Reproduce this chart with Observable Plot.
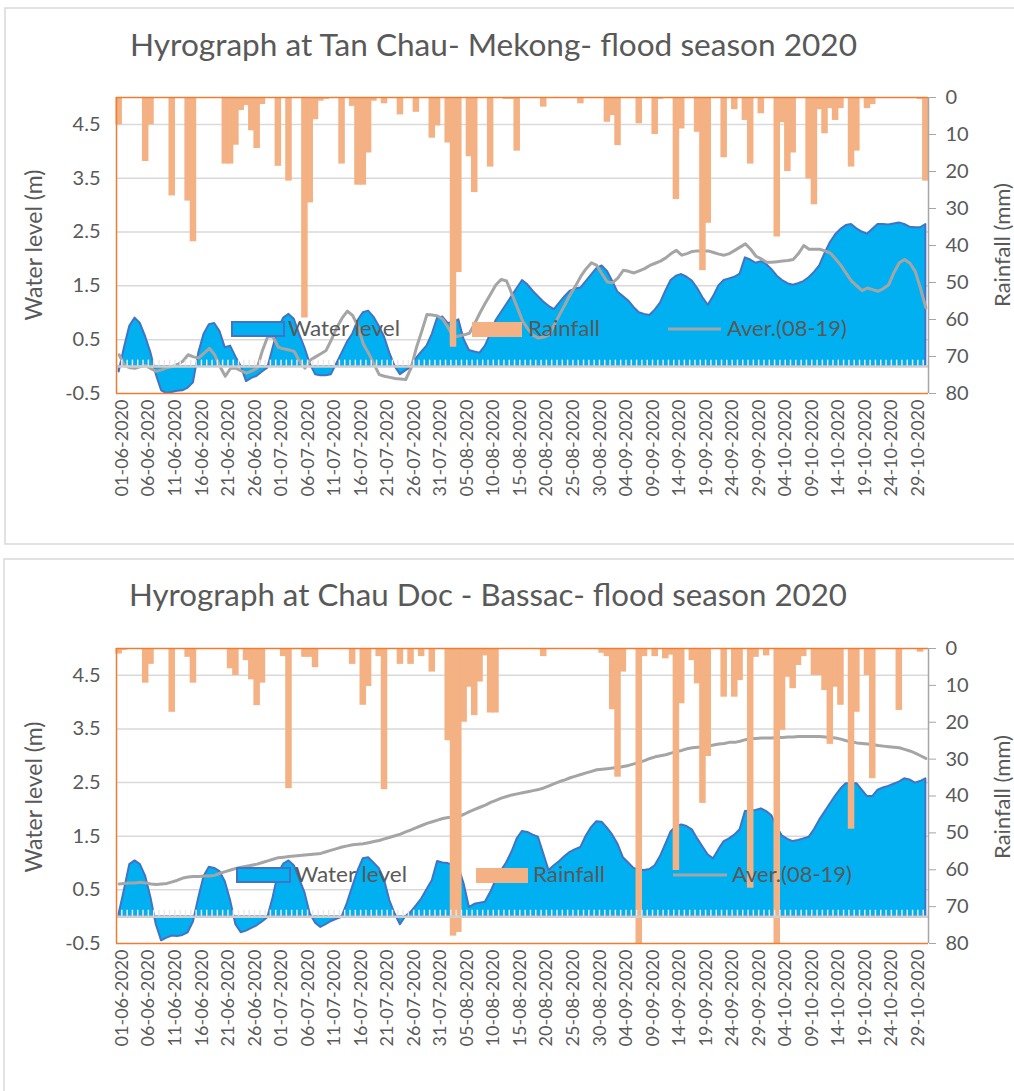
<!DOCTYPE html>
<html>
<head>
<meta charset="utf-8">
<script src="https://cdn.jsdelivr.net/npm/d3@7"></script>
<script src="https://cdn.jsdelivr.net/npm/@observablehq/plot@0.6"></script>
<style>
  html, body { margin: 0; padding: 0; background: #ffffff; }
  #page { position: relative; width: 1014px; height: 1091px; overflow: hidden; font-family: Lato, "Open Sans", sans-serif; }
  #overlay { position: absolute; left: 0; top: 0; pointer-events: none; }
</style>
</head>
<body>
<div id="page"></div>
<script>
// ---------------- DATA ----------------
const startDay = "2020-06-01";           // first day of the series (daily values)
const tickStepDays = 5;                  // a date label every 5 days

const titles = [
  "Hyrograph at Tan Chau- Mekong- flood season 2020",
  "Hyrograph at Chau Doc - Bassac- flood season 2020"
];
const seriesNames = ["Water level", "Rainfall", "Aver.(08-19)"];
const leftTitle = "Water level (m)";
const rightTitle = "Rainfall (mm)";

const levelTicks = [-0.5, 0.5, 1.5, 2.5, 3.5, 4.5];
const levelDomain = [-0.5, 5.0];
const rainTicks = [0, 10, 20, 30, 40, 50, 60, 70, 80];
const rainDomain = [0, 80];

// Tan Chau – water level (m), daily
const tcLevel = [
  -0.10, 0.35, 0.75, 0.90, 0.80, 0.55, 0.25, -0.15, -0.45, -0.50,
  -0.48, -0.46, -0.45, -0.40, -0.30, 0.25, 0.60, 0.78, 0.80, 0.65,
  0.35, 0.38, 0.18, 0.00, -0.28, -0.22, -0.18, -0.10, -0.03, 0.34,
  0.70, 0.90, 0.97, 0.88, 0.60, 0.35, 0.05, -0.15, -0.17, -0.17,
  -0.15, 0.05, 0.25, 0.45, 0.60, 0.85, 1.00, 1.03, 0.92, 0.75,
  0.55, 0.25, 0.00, -0.15, -0.08, -0.02, 0.15, 0.27, 0.38, 0.60,
  0.90, 0.92, 0.80, 0.82, 0.87, 0.50, 0.30, 0.27, 0.25, 0.38,
  0.60, 0.85, 1.00, 1.15, 1.30, 1.45, 1.60, 1.52, 1.40, 1.30,
  1.20, 1.12, 1.06, 1.18, 1.30, 1.40, 1.44, 1.46, 1.58, 1.70,
  1.82, 1.87, 1.77, 1.58, 1.38, 1.30, 1.22, 1.10, 1.00, 0.97,
  0.95, 1.05, 1.18, 1.40, 1.60, 1.68, 1.71, 1.66, 1.59, 1.45,
  1.28, 1.14, 1.30, 1.50, 1.60, 1.63, 1.66, 1.72, 2.02, 1.98,
  1.92, 1.95, 1.90, 1.80, 1.68, 1.60, 1.54, 1.51, 1.54, 1.58,
  1.65, 1.75, 1.87, 2.10, 2.30, 2.45, 2.55, 2.62, 2.64, 2.56,
  2.50, 2.46, 2.55, 2.64, 2.64, 2.63, 2.65, 2.67, 2.64, 2.59,
  2.58, 2.58, 2.64
];
// Tan Chau – average 2008-2019 (m), daily
const tcAvg = [
  0.22, 0.02, -0.02, -0.03, 0.00, 0.02, -0.04, -0.09, -0.06, -0.02,
  0.00, 0.04, 0.10, 0.22, 0.18, 0.16, 0.25, 0.34, 0.22, 0.00,
  -0.18, -0.03, -0.03, -0.08, -0.12, -0.08, -0.03, 0.30, 0.56, 0.55,
  0.36, 0.33, 0.31, 0.28, 0.10, -0.03, 0.12, 0.18, 0.24, 0.30,
  0.50, 0.72, 0.90, 1.03, 0.95, 0.75, 0.42, 0.25, 0.05, -0.15,
  -0.18, -0.20, -0.22, -0.23, -0.24, -0.03, 0.35, 0.65, 0.97, 0.96,
  0.94, 0.88, 0.72, 0.55, 0.57, 0.59, 0.62, 0.80, 1.00, 1.18,
  1.35, 1.52, 1.62, 1.59, 1.35, 1.10, 0.85, 0.70, 0.58, 0.53,
  0.55, 0.59, 0.78, 0.97, 1.15, 1.34, 1.50, 1.68, 1.82, 1.93,
  1.88, 1.72, 1.57, 1.56, 1.65, 1.79, 1.77, 1.74, 1.78, 1.82,
  1.88, 1.92, 1.96, 2.02, 2.10, 2.16, 2.07, 2.10, 2.14, 2.15,
  2.15, 2.15, 2.12, 2.09, 2.07, 2.10, 2.16, 2.22, 2.28, 2.18,
  2.05, 2.00, 1.94, 1.94, 1.95, 1.96, 1.97, 1.99, 2.10, 2.25,
  2.18, 2.18, 2.18, 2.15, 2.11, 2.00, 1.88, 1.73, 1.59, 1.50,
  1.41, 1.46, 1.43, 1.40, 1.45, 1.52, 1.75, 1.93, 1.99, 1.92,
  1.77, 1.45, 1.09
];
// Tan Chau – rainfall (mm), daily
const tcRain = [
  7.4, 0, 0, 0, 0, 17.3, 7.4, 0, 0, 0,
  26.6, 0, 0, 28, 39, 0, 0, 0, 0, 0,
  18, 18, 12.9, 3.5, 2.2, 9, 13.8, 1.9, 0, 0,
  18.6, 0, 22.6, 0, 0, 59.6, 28.5, 6, 1, 0.5,
  0, 0, 18, 0, 2.4, 23.7, 23.7, 15, 1, 0,
  1.7, 0, 0, 4.7, 0, 0, 4, 0, 0, 11,
  7.7, 0, 12.3, 67.5, 47.3, 0, 16, 25.7, 0, 0,
  18.8, 0, 0, 0.5, 0.5, 14.5, 0, 0, 0, 0,
  2.6, 0, 0, 0, 0, 0, 0, 1.7, 0, 0,
  0, 0, 6.7, 4.9, 13, 0, 0, 0, 7.1, 0,
  0, 10, 0.5, 0, 0, 27.6, 8.5, 0, 0, 9.4,
  46.8, 34, 0, 0, 16.3, 0, 3.3, 0, 6.2, 18,
  0, 4.4, 0, 0, 37.7, 6.8, 20, 15, 0, 0,
  22, 29, 3.3, 9.8, 3, 6.2, 3, 0, 18.8, 14.5,
  0, 3, 1.9, 0, 0, 0, 0, 0, 0, 0,
  0, 0.5, 22.6
];

// Chau Doc – water level (m), daily
const cdLevel = [
  0.05, 0.50, 0.97, 1.04, 0.97, 0.75, 0.35, -0.15, -0.45, -0.40,
  -0.36, -0.37, -0.35, -0.30, -0.10, 0.35, 0.75, 0.92, 0.90, 0.84,
  0.65, 0.30, -0.15, -0.30, -0.27, -0.22, -0.17, -0.10, -0.02, 0.35,
  0.80, 0.98, 1.04, 0.95, 0.70, 0.45, 0.05, -0.12, -0.20, -0.15,
  -0.09, -0.05, -0.01, 0.25, 0.55, 0.85, 1.08, 1.10, 1.00, 0.90,
  0.68, 0.30, 0.05, -0.15, 0.00, 0.08, 0.20, 0.33, 0.50, 0.67,
  1.03, 1.00, 0.99, 0.96, 0.92, 0.61, 0.17, 0.23, 0.25, 0.27,
  0.45, 0.67, 0.85, 1.00, 1.20, 1.45, 1.59, 1.57, 1.52, 1.48,
  1.17, 0.86, 0.95, 1.03, 1.12, 1.20, 1.25, 1.29, 1.50, 1.66,
  1.77, 1.76, 1.65, 1.52, 1.35, 1.10, 1.00, 0.90, 0.87, 0.86,
  0.88, 0.95, 1.12, 1.35, 1.58, 1.68, 1.71, 1.68, 1.62, 1.45,
  1.30, 1.15, 1.08, 1.25, 1.40, 1.45, 1.52, 1.62, 1.96, 1.97,
  1.98, 2.01, 1.96, 1.88, 1.66, 1.50, 1.44, 1.40, 1.42, 1.45,
  1.48, 1.62, 1.80, 1.95, 2.10, 2.25, 2.38, 2.48, 2.48, 2.48,
  2.36, 2.24, 2.24, 2.36, 2.40, 2.43, 2.47, 2.51, 2.57, 2.55,
  2.49, 2.52, 2.57
];
// Chau Doc – average 2008-2019 (m), daily
const cdAvg = [
  0.61, 0.62, 0.63, 0.63, 0.64, 0.63, 0.61, 0.60, 0.61, 0.62,
  0.65, 0.68, 0.72, 0.74, 0.75, 0.75, 0.76, 0.76, 0.77, 0.81,
  0.84, 0.87, 0.90, 0.92, 0.94, 0.96, 0.98, 1.01, 1.04, 1.07,
  1.10, 1.11, 1.12, 1.13, 1.14, 1.15, 1.16, 1.17, 1.18, 1.21,
  1.24, 1.27, 1.30, 1.32, 1.34, 1.35, 1.36, 1.38, 1.40, 1.42,
  1.45, 1.48, 1.51, 1.54, 1.58, 1.62, 1.66, 1.70, 1.74, 1.77,
  1.80, 1.83, 1.85, 1.86, 1.87, 1.91, 1.96, 2.00, 2.04, 2.08,
  2.13, 2.17, 2.21, 2.24, 2.27, 2.29, 2.31, 2.33, 2.35, 2.37,
  2.40, 2.44, 2.48, 2.52, 2.55, 2.59, 2.62, 2.65, 2.68, 2.71,
  2.74, 2.75, 2.76, 2.77, 2.78, 2.80, 2.82, 2.85, 2.88, 2.91,
  2.95, 2.98, 3.00, 3.02, 3.05, 3.08, 3.10, 3.13, 3.15, 3.16,
  3.17, 3.18, 3.20, 3.22, 3.23, 3.25, 3.25, 3.27, 3.30, 3.32,
  3.32, 3.33, 3.33, 3.33, 3.34, 3.34, 3.35, 3.35, 3.36, 3.36,
  3.36, 3.36, 3.36, 3.35, 3.34, 3.33, 3.31, 3.28, 3.26, 3.24,
  3.23, 3.22, 3.21, 3.19, 3.18, 3.17, 3.16, 3.15, 3.12, 3.09,
  3.05, 3.00, 2.95
];
// Chau Doc – rainfall (mm), daily
const cdRain = [
  1.5, 0.5, 0, 0, 0, 9.4, 4.3, 0, 0, 0,
  17.3, 0, 0, 2.4, 9.4, 0, 0, 0, 0, 0,
  0, 5.5, 7.3, 0, 3.3, 8.5, 15.5, 9.4, 0, 0,
  0, 2.2, 38, 0, 0, 2.4, 2.4, 5.2, 0, 0,
  0, 0, 0, 0, 4.3, 0, 15.4, 10.3, 0, 2.2,
  38.3, 0, 0, 4.3, 0, 4.3, 0, 2.2, 0, 6.4,
  0, 0, 25, 78, 77, 20, 10.5, 18.2, 9.1, 2,
  17.5, 17.5, 0, 0, 0, 0, 0, 0, 0, 0,
  2.2, 0, 0, 0, 0, 0, 0, 0, 0, 0,
  0, 1.3, 2.2, 16.6, 34.9, 6.4, 0, 0, 80, 2.2,
  0, 2.2, 0, 2.8, 1.8, 60.2, 15, 0, 3.3, 9.6,
  42, 29.3, 0, 0, 13.2, 0, 13.2, 8.7, 0, 65,
  2.4, 0, 2, 0, 80, 22.2, 7.8, 10.9, 4.6, 2.2,
  0, 7.3, 7.3, 11.4, 26, 10.5, 15.4, 0, 49, 17.3,
  0, 7.3, 35.3, 0, 0, 0, 0, 16.8, 0, 0,
  0, 1, 0
];

// ---------------- STYLE ----------------
const C = {
  area: "#00b0f0", areaStroke: "#4472c4", bar: "#f4b183", avg: "#a5a5a5",
  orange: "#ed7d31", grid: "#d9d9d9", text: "#595959", rightAxis: "#a6a6a6",
  zeroLine: "#cfcfcf", dayTick: "#e9e9e9", border: "#d9d9d9"
};
const FONT = "Lato, 'Open Sans', sans-serif";

const page = document.getElementById("page");
const t0 = d3.utcParse("%Y-%m-%d")(startDay);

function buildRows(level, rain, avg) {
  return level.map((v, i) => {
    const start = d3.utcDay.offset(t0, i);
    return {
      start, end: d3.utcDay.offset(t0, i + 1),
      mid: d3.utcHour.offset(start, 12),
      level: v, rain: rain[i], avg: avg[i]
    };
  });
}

// layout of the two panels (svg top and plot frame)
const panels = [
  { level: tcLevel, rain: tcRain, avg: tcAvg, svgTop: 70, height: 470, marginTop: 27, marginBottom: 147 },
  { level: cdLevel, rain: cdRain, avg: cdAvg, svgTop: 621, height: 470, marginTop: 27, marginBottom: 148 }
];

panels.forEach((p, k) => {
  const rows = buildRows(p.level, p.rain, p.avg);
  const tEnd = d3.utcDay.offset(t0, rows.length);
  const rainToLevel = d3.scaleLinear().domain(rainDomain).range([levelDomain[1], levelDomain[0]]);
  const labelDates = rows.filter((d, i) => i % tickStepDays === 0).map(d => d.mid);
  const fmt = d3.utcFormat("%d-%m-%Y");

  const chart = Plot.plot({
    width: 1014, height: p.height,
    marginLeft: 116, marginRight: 86, marginTop: p.marginTop, marginBottom: p.marginBottom,
    style: { fontFamily: FONT, color: C.text, background: "transparent", overflow: "visible" },
    x: { type: "utc", domain: [t0, tEnd] },
    y: { domain: levelDomain },
    marks: [
      Plot.ruleY(levelTicks.filter(v => v > levelDomain[0]), { stroke: C.grid, strokeWidth: 1.5 }),
      Plot.areaY(rows, { x: "mid", y1: 0, y2: "level", fill: C.area, stroke: C.areaStroke, strokeWidth: 2, strokeLinejoin: "round" }),
      Plot.line(rows, { x: "mid", y: "avg", stroke: C.avg, strokeWidth: 3, strokeLinejoin: "round" }),
      Plot.rect(rows.filter(d => d.rain > 0), {
        x1: "start", x2: "end",
        y1: () => rainToLevel(0), y2: d => rainToLevel(Math.min(d.rain, rainDomain[1])),
        fill: C.bar, insetLeft: -0.6, insetRight: -0.6
      }),
      // category axis crossing at 0 with a tick per day
      Plot.ruleX(rows.map(d => d.start).concat([tEnd]), { y1: 0, y2: 0.12, stroke: C.dayTick, strokeWidth: 1.5 }),
      Plot.ruleY([0], { stroke: C.zeroLine, strokeWidth: 2.5 }),
      // frame lines
      Plot.ruleY([levelDomain[1], levelDomain[0]], { stroke: C.orange, strokeWidth: 1.5 }),
      Plot.ruleX([t0], { stroke: C.orange, strokeWidth: 1.5 }),
      Plot.ruleX([tEnd], { stroke: C.rightAxis, strokeWidth: 1.5 }),
      // axes
      Plot.axisY(levelTicks, { anchor: "left", tickSize: 0, tickPadding: 16, fontSize: 20, tickFormat: d => String(d) }),
      Plot.axisY(rainTicks.map(r => rainToLevel(r)), {
        anchor: "right", tickSize: 7, tickPadding: 10, fontSize: 20, stroke: C.rightAxis,
        tickFormat: v => String(Math.round(rainToLevel.invert(v)))
      }),
      Plot.axisX(labelDates, { anchor: "bottom", tickSize: 0, tickPadding: 6, tickRotate: -90, fontSize: 18, tickFormat: fmt, dx: 3 })
    ]
  });
  chart.style.position = "absolute";
  chart.style.left = "0px";
  chart.style.top = p.svgTop + "px";
  page.appendChild(chart);
});

// ---------------- OVERLAY: borders, titles, axis titles, legends ----------------
const ov = d3.select(page).append("svg").attr("id", "overlay")
  .attr("width", 1014).attr("height", 1091);

ov.append("rect").attr("x", 5).attr("y", 8).attr("width", 1030).attr("height", 536)
  .attr("fill", "none").attr("stroke", C.border).attr("stroke-width", 1.5);
ov.append("rect").attr("x", 4).attr("y", 559).attr("width", 1030).attr("height", 560)
  .attr("fill", "none").attr("stroke", C.border).attr("stroke-width", 1.5);

const annot = [
  { title: titles[0], tx: 130, tw: 727, ty: 56, axisCy: 245, lg: { y: 329, blue: [232, 284], t1: 288, orange: [472, 522], t2: 528, gray: [668, 721], t3: 727 } },
  { title: titles[1], tx: 129, tw: 718, ty: 606, axisCy: 797, lg: { y: 875, blue: [237, 290], t1: 295, orange: [476, 528], t2: 533, gray: [673, 727], t3: 732 } }
];

annot.forEach(a => {
  ov.append("text").attr("x", a.tx).attr("y", a.ty)
    .attr("font-family", FONT).attr("font-size", 31).attr("fill", C.text)
    .attr("textLength", a.tw).attr("lengthAdjust", "spacingAndGlyphs")
    .text(a.title);

  ov.append("text").attr("transform", `translate(42,${a.axisCy}) rotate(-90)`)
    .attr("text-anchor", "middle").attr("font-family", FONT).attr("font-size", 23).attr("fill", C.text)
    .text(leftTitle);
  ov.append("text").attr("transform", `translate(1010,${a.axisCy}) rotate(-90)`)
    .attr("text-anchor", "middle").attr("font-family", FONT).attr("font-size", 22).attr("fill", C.text)
    .text(rightTitle);

  const L = a.lg;
  ov.append("rect").attr("x", L.blue[0]).attr("y", L.y - 7).attr("width", L.blue[1] - L.blue[0]).attr("height", 14)
    .attr("fill", C.area).attr("stroke", C.areaStroke).attr("stroke-width", 2);
  ov.append("rect").attr("x", L.orange[0]).attr("y", L.y - 7).attr("width", L.orange[1] - L.orange[0]).attr("height", 15)
    .attr("fill", C.bar);
  ov.append("line").attr("x1", L.gray[0]).attr("x2", L.gray[1]).attr("y1", L.y).attr("y2", L.y)
    .attr("stroke", C.avg).attr("stroke-width", 3);
  const lgText = [[L.t1, seriesNames[0], 112], [L.t2, seriesNames[1], 72], [L.t3, seriesNames[2], 120]];
  lgText.forEach(([x, s, w]) => {
    ov.append("text").attr("x", x).attr("y", L.y + 7).attr("font-family", FONT).attr("font-size", 21)
      .attr("fill", C.text).attr("textLength", w).attr("lengthAdjust", "spacingAndGlyphs").text(s);
  });
});
</script>
</body>
</html>
